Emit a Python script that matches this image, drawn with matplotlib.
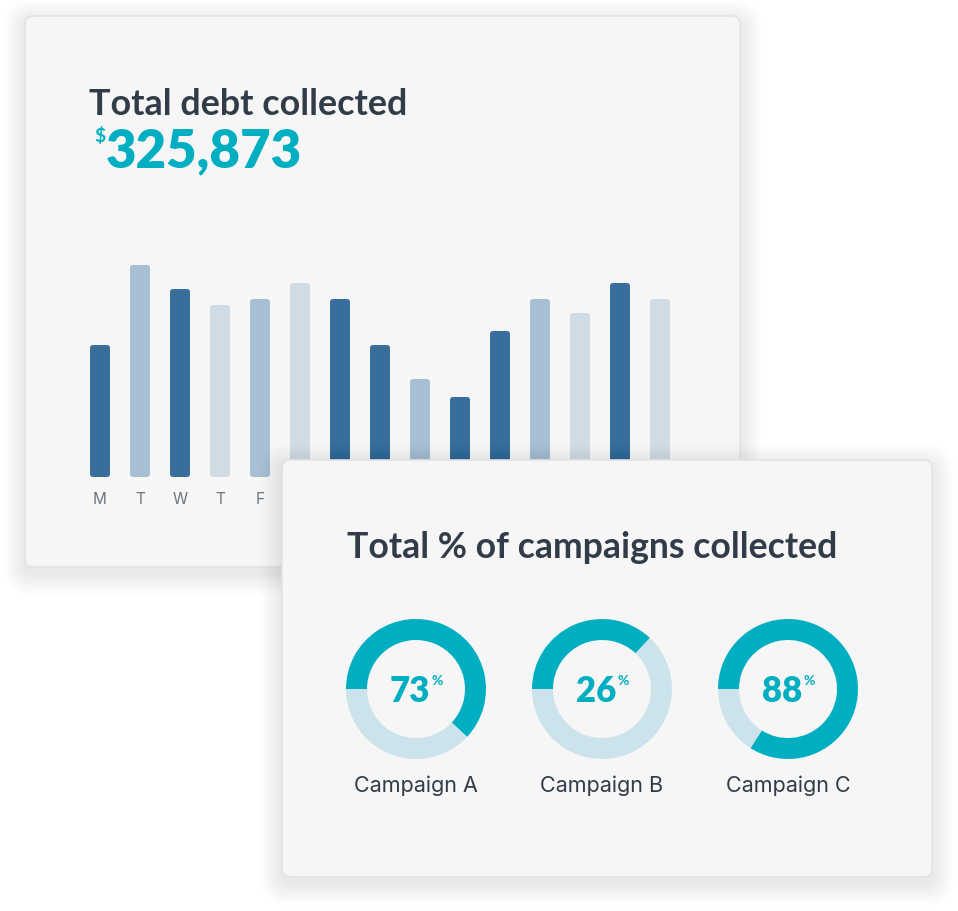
import numpy as np
import matplotlib
matplotlib.use("Agg")
import matplotlib.pyplot as plt
from matplotlib.patches import FancyBboxPatch

# ── Data ───────────────────────────────────────────────────────────────────
days = ["M", "T", "W", "T", "F", "S", "S", "M", "T", "W", "T", "F", "S", "S", "M"]
daily_collected = [132, 212, 188, 172, 178, 194, 178, 132, 98, 80, 146, 178, 164, 194, 178]
bar_shade = ["dark", "mid", "dark", "light", "mid", "light", "dark", "dark",
             "mid", "dark", "dark", "mid", "light", "dark", "light"]
total_collected = "325,873"

campaigns = ["Campaign A", "Campaign B", "Campaign C"]
campaign_pct = [73, 26, 88]
arc_fraction = [0.62, 0.37, 0.84]   # filled share of each ring as drawn

# ── Style ──────────────────────────────────────────────────────────────────
W, H = 958, 912
TEAL = "#00aec2"
RING_BG = "#cde3eb"
INK = "#323c48"
SHADES = {"dark": "#386e9c", "mid": "#a8bed2", "light": "#d0dce5"}
HEAD = ["Lato", "DejaVu Sans"]
BODY = ["Inter", "Lato", "DejaVu Sans"]


def px_axes(rect, z):
    """Axes placed by pixel box (left, top, width, height), top-left origin."""
    l, t, w, h = rect
    return fig.add_axes([l / W, (H - t - h) / H, w / W, h / H], zorder=z)


def card(ax, x0, y0, x1, y1):
    # soft shadow
    for i in range(22, 0, -1):
        ax.add_patch(FancyBboxPatch((x0 - i, y0 - i + 6), x1 - x0 + 2 * i,
                                    y1 - y0 + 2 * i,
                                    boxstyle=f"round,pad=0,rounding_size={8 + i}",
                                    fc="black", ec="none", alpha=0.0035))
    box = FancyBboxPatch((x0, y0), x1 - x0, y1 - y0,
                         boxstyle="round,pad=0,rounding_size=8",
                         fc="#f6f6f6", ec="none")
    ax.add_patch(box)
    grad = np.linspace(0, 1, 256).reshape(-1, 1)
    im = ax.imshow(grad, cmap=matplotlib.colors.LinearSegmentedColormap.from_list(
        "c", ["#f9f9f9", "#f1f1f1"]), extent=[x0, x1, y1, y0], aspect="auto")
    im.set_clip_path(box)
    ax.add_patch(FancyBboxPatch((x0, y0), x1 - x0, y1 - y0,
                                boxstyle="round,pad=0,rounding_size=8",
                                fc="none", ec="#e3e3e3", lw=1.2))


fig = plt.figure(figsize=(W / 100, H / 100), dpi=100, facecolor="white")

# ── Card 1: total debt ─────────────────────────────────────────────────────
bg = px_axes((0, 0, W, H), 0)
bg.axis("off")
card(bg, 25, 17, 740, 568)
bg.set_xlim(0, W)
bg.set_ylim(H, 0)
bg.text(89, 115, "Total debt collected", fontsize=25.8, fontweight="bold",
        family=HEAD, color=INK, va="baseline", ha="left")
num = bg.text(106, 167, total_collected, fontsize=38, fontweight="heavy",
              family=HEAD, color=TEAL, va="baseline", ha="left")
bg.annotate("$", xy=(0, 1), xycoords=num, xytext=(0, 0),
            textcoords="offset points", ha="right", va="top",
            fontsize=14, fontweight="bold", family=HEAD, color=TEAL)

bars_ax = px_axes((80, 266, 600, 212), 1)
bars_ax.set_xlim(-0.5, len(days) - 0.5)
bars_ax.set_ylim(0, max(daily_collected))
bars_ax.patch.set_alpha(0)
x = np.arange(len(days))
bars = bars_ax.bar(x, daily_collected, width=0.5,
                   color=[SHADES[s] for s in bar_shade])
for b in bars:
    # swap each bar for a slightly rounded one of the same geometry
    bars_ax.add_patch(FancyBboxPatch((b.get_x(), b.get_y()), b.get_width(),
                                     b.get_height(),
                                     boxstyle="round,pad=0,rounding_size=0.08",
                                     mutation_aspect=40, fc=b.get_facecolor(),
                                     ec="none"))
    b.set_visible(False)
for s in bars_ax.spines.values():
    s.set_visible(False)
bars_ax.set_yticks([])
bars_ax.set_xticks(x)
bars_ax.set_xticklabels(days, family=BODY, fontsize=11, color="#6c737b")
bars_ax.tick_params(axis="x", length=0, pad=10)

# ── Card 2: campaigns ──────────────────────────────────────────────────────
top = px_axes((0, 0, W, H), 2)
top.axis("off")
top.patch.set_alpha(0)
card(top, 282, 461, 932, 878)
top.set_xlim(0, W)
top.set_ylim(H, 0)
top.text(347, 558, "Total % of campaigns collected", fontsize=25.7,
         fontweight="bold", family=HEAD, color=INK, va="baseline", ha="left")

centers = [416, 602, 788]
for cx, name, pct, frac in zip(centers, campaigns, campaign_pct, arc_fraction):
    ax = px_axes((cx - 72, 690 - 72, 144, 144), 3)
    ax.pie([frac, 1 - frac], startangle=180, counterclock=False,
           colors=[TEAL, RING_BG], radius=70 / 72,
           wedgeprops=dict(width=21 / 72, linewidth=0))
    ax.set_xlim(-1, 1)
    ax.set_ylim(-1, 1)
    ax.set_aspect("equal")
    ax.axis("off")
    t = ax.text(-0.08, -0.16, str(pct), fontsize=25, fontweight="heavy",
                family=HEAD, color=TEAL, ha="center", va="baseline")
    ax.annotate("%", xy=(1, 1), xycoords=t, xytext=(1, 0),
                textcoords="offset points", ha="left", va="top",
                fontsize=10, fontweight="bold", family=HEAD, color=TEAL)
    top.text(cx, 792, name, fontsize=15.5, family=BODY, color=INK,
             ha="center", va="baseline")

fig.savefig("out.png", dpi=100, facecolor="white")
plt.close(fig)
